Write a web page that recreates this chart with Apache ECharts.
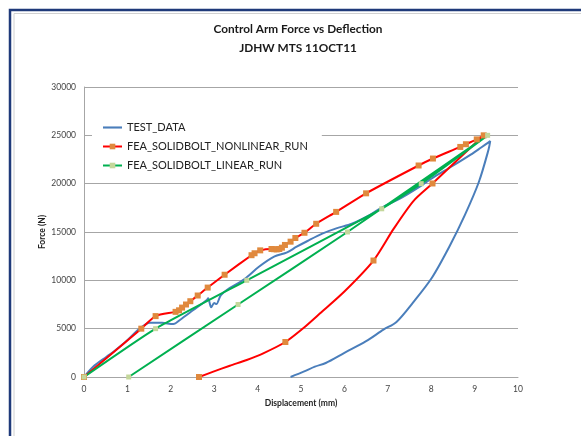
<!DOCTYPE html>
<html>
<head>
<meta charset="utf-8">
<script src="https://cdn.jsdelivr.net/npm/echarts@6/dist/echarts.min.js"></script>
<style>
  html, body { margin: 0; padding: 0; background: #fff; }
  #main { width: 581px; height: 436px; }
</style>
</head>
<body>
<div id="main"></div>
<script>
// values
var xTicks = [0, 10, 1];          // min, max, interval (mm)
var yTicks = [0, 30000, 5000];    // min, max, interval (N)

var seriesNames = ['TEST_DATA', 'FEA_SOLIDBOLT_NONLINEAR_RUN', 'FEA_SOLIDBOLT_LINEAR_RUN'];

// test data: loading then unloading
var testData = [
    [0, 0], [0.21, 1070], [0.52, 2100], [0.68, 2620], [0.96, 3650], [1.29, 5040],
    [1.52, 5620], [1.8, 5600], [2.06, 5480], [2.21, 5900], [2.52, 6930], [2.83, 7970],
    [2.86, 8150], [2.93, 7210], [3.0, 7650], [3.05, 7550], [3.15, 8450], [3.29, 9000],
    [3.69, 10100], [4.03, 11400], [4.38, 12450], [4.68, 12900], [4.89, 13450], [5.15, 14070],
    [5.49, 14830], [5.83, 15400], [6.17, 15850], [6.6, 16800], [6.85, 17500], [7.2, 18270],
    [7.45, 18900], [7.79, 19850], [8.05, 20650], [8.48, 21800], [8.91, 23000], [9.16, 23770],
    [9.33, 24300], [9.36, 24400],
    [9.32, 23500], [9.1, 20200], [8.78, 16800], [8.42, 13500], [8.02, 10300], [7.58, 7700],
    [7.2, 5700], [6.9, 4900], [6.5, 3700], [6.0, 2500], [5.57, 1450], [5.32, 1070],
    [5.06, 550], [4.76, 0]
];

// nonlinear run: [x, y, hasMarker]
var nonlinearData = [
    [0, 0, 1], [1.32, 5000, 1], [1.65, 6300, 1], [2.11, 6740, 1], [2.19, 6900, 1],
    [2.26, 7180, 1], [2.35, 7500, 1], [2.45, 7840, 1], [2.62, 8430, 1], [2.85, 9250, 1],
    [3.24, 10580, 1], [3.86, 12600, 1], [3.93, 12800, 1], [4.06, 13100, 1], [4.32, 13240, 1],
    [4.38, 13220, 1], [4.44, 13200, 1], [4.5, 13240, 1], [4.56, 13380, 1], [4.63, 13660, 1],
    [4.76, 14000, 1], [4.87, 14380, 1], [5.08, 14920, 1], [5.35, 15850, 1], [5.81, 17080, 1],
    [6.5, 19000, 1], [7.71, 21880, 1], [8.04, 22600, 1], [8.67, 23800, 1], [8.8, 24080, 1],
    [9.05, 24580, 1], [9.21, 25000, 1],
    [8.03, 20020, 1], [7.59, 18200, 0], [7.13, 15300, 0], [6.67, 12050, 1], [6.0, 8850, 0],
    [5.44, 6590, 0], [5.05, 5040, 0], [4.64, 3620, 1], [4.13, 2450, 0], [3.75, 1760, 0],
    [3.36, 1170, 0], [2.98, 550, 0], [2.65, 0, 1]
];

// linear run: [x, y, hasMarker]
var linearData = [
    [0, 0, 1], [1.65, 5000, 1], [3.75, 10000, 1], [6.86, 17400, 1], [7.77, 20000, 1],
    [9.3, 25000, 1],
    [6.07, 15000, 1], [3.55, 7500, 1], [1.03, 0, 1]
];

function withMarkers(list) {
    return list.map(function (p) {
        return p[2] ? [p[0], p[1]] : { value: [p[0], p[1]], symbol: 'none' };
    });
}

var chart = echarts.init(document.getElementById('main'));
var font = 'Lato, "Open Sans", sans-serif';

var option = {
    animation: false,
    backgroundColor: '#fff',
    textStyle: { fontFamily: font },
    graphic: [
        { type: 'rect', shape: { x: 10, y: 10, width: 620, height: 480 },
          style: { fill: 'none', stroke: '#1F3A7A', lineWidth: 2.5 } },
        { type: 'rect', shape: { x: 14, y: 13.5, width: 620, height: 480 },
          style: { fill: 'none', stroke: '#d0d0d0', lineWidth: 1 } },
        { type: 'text', x: 298, y: 20,
          style: { text: 'Control Arm Force vs Deflection\nJDHW MTS 11OCT11', textAlign: 'center',
                   fontFamily: font, fontWeight: 'bold', fontSize: 11.8, lineHeight: 19, fill: '#1a1a1a' } }
    ],
    grid: { left: 84, right: 63, top: 87, bottom: 59 },
    legend: {
        data: [
            { name: seriesNames[0], icon: 'path://M0,0 L18,0 L18,2 L0,2 Z' },
            { name: seriesNames[1] },
            { name: seriesNames[2] }
        ],
        orient: 'vertical',
        left: 92, top: 114,
        padding: [8, 14, 8, 10],
        backgroundColor: '#fff',
        itemWidth: 19, itemHeight: 7, itemGap: 8,
        textStyle: { fontSize: 11, color: '#222', fontFamily: font }
    },
    xAxis: {
        type: 'value',
        min: xTicks[0], max: xTicks[1], interval: xTicks[2],
        name: 'Displacement (mm)',
        nameLocation: 'middle', nameGap: 22,
        nameTextStyle: { fontSize: 8.5, fontWeight: 'bold', color: '#222' },
        axisLine: { lineStyle: { color: '#a6a6a6' } },
        axisTick: { show: false },
        axisLabel: { fontSize: 8.5, color: '#444', margin: 8 },
        splitLine: { show: false }
    },
    yAxis: {
        type: 'value',
        min: yTicks[0], max: yTicks[1], interval: yTicks[2],
        name: 'Force (N)',
        nameLocation: 'middle', nameGap: 37, nameRotate: 90, nameMoveOverlap: false,
        nameTextStyle: { fontSize: 8.5, fontWeight: 'bold', color: '#222' },
        axisLine: { show: true, lineStyle: { color: '#a6a6a6' } },
        axisTick: { show: false },
        axisLabel: { fontSize: 8.5, color: '#444', margin: 8, formatter: function (v) { return String(v); } },
        splitLine: { lineStyle: { color: '#a6a6a6' } }
    },
    series: [
        {
            name: seriesNames[0], type: 'line',
            data: testData, showSymbol: false, symbol: 'none', smooth: 0.3,
            lineStyle: { color: '#4A7EBB', width: 2 },
            itemStyle: { color: '#4A7EBB' }
        },
        {
            name: seriesNames[1], type: 'line',
            data: withMarkers(nonlinearData), symbol: 'rect', symbolSize: 6, smooth: 0.25,
            lineStyle: { color: '#FF0000', width: 2 },
            itemStyle: { color: '#E0893D', borderWidth: 0 }
        },
        {
            name: seriesNames[2], type: 'line',
            data: withMarkers(linearData), symbol: 'rect', symbolSize: 5, smooth: 0.15,
            lineStyle: { color: '#00B050', width: 2 },
            itemStyle: { color: '#C4D79B', borderWidth: 0 }
        }
    ]
};

chart.setOption(option);
</script>
</body>
</html>
